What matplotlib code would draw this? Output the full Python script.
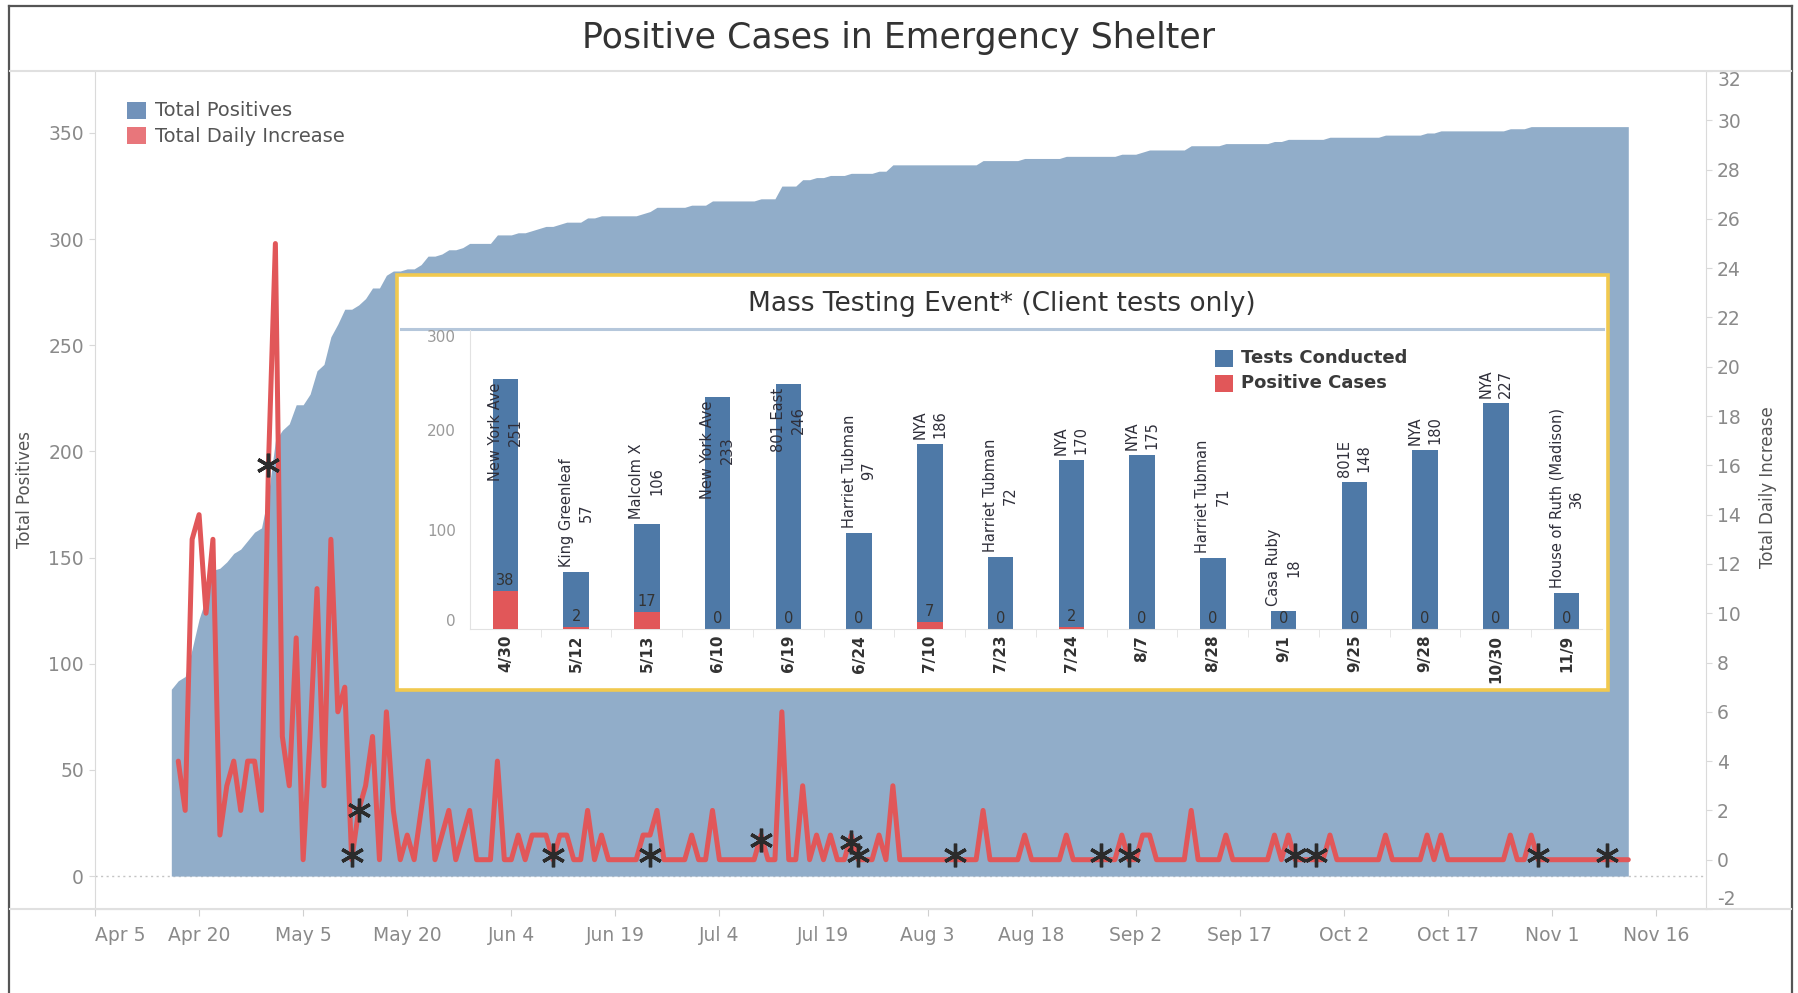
import matplotlib
matplotlib.use("Agg")
import matplotlib.pyplot as plt
import matplotlib.dates as mdates
from matplotlib.patches import Rectangle
from matplotlib.lines import Line2D
import pandas as pd

# ---------------- data ----------------
total_start = "2020-04-16"
total_positives = [
    88,
    92, 94, 107, 121, 131, 144, 145, 148, 152, 154,    # Apr 17-26
    158, 162, 164, 180, 205, 210, 213, 222, 222, 227,  # Apr 27-May 6
    238, 241, 254, 260, 267, 267, 269, 272, 277, 277,  # May 7-16
    283, 285, 285, 286, 286, 288, 292, 292, 293, 295,  # May 17-26
    295, 296, 298, 298, 298, 298, 302, 302, 302, 303,  # May 27-Jun 5
    303, 304, 305, 306, 306, 307, 308, 308, 308, 310,  # Jun 6-15
    310, 311, 311, 311, 311, 311, 311, 312, 313, 315,  # Jun 16-25
    315, 315, 315, 315, 316, 316, 316, 318, 318, 318,  # Jun 26-Jul 5
    318, 318, 318, 318, 319, 319, 319, 325, 325, 325,  # Jul 6-15
    328, 328, 329, 329, 330, 330, 330, 331, 331, 331,  # Jul 16-25
    331, 332, 332, 335, 335, 335, 335, 335, 335, 335,  # Jul 26-Aug 4
    335, 335, 335, 335, 335, 335, 337, 337, 337, 337,  # Aug 5-14
    337, 337, 338, 338, 338, 338, 338, 338, 339, 339,  # Aug 15-24
    339, 339, 339, 339, 339, 339, 340, 340, 340, 341,  # Aug 25-Sep 3
    342, 342, 342, 342, 342, 342, 344, 344, 344, 344,  # Sep 4-13
    344, 345, 345, 345, 345, 345, 345, 345, 346, 346,  # Sep 14-23
    347, 347, 347, 347, 347, 347, 348, 348, 348, 348,  # Sep 24-Oct 3
    348, 348, 348, 348, 349, 349, 349, 349, 349, 349,  # Oct 4-13
    350, 350, 351, 351, 351, 351, 351, 351, 351, 351,  # Oct 14-23
    351, 351, 352, 352, 352, 353, 353, 353, 353, 353,  # Oct 24-Nov 2
    353, 353, 353, 353, 353, 353, 353, 353, 353, 353,  # Nov 3-12
]

daily_start = "2020-04-17"
daily_increase = [
    4, 2, 13, 14, 10, 13, 1, 3, 4, 2,      # Apr 17-26
    4, 4, 2, 16, 25, 5, 3, 9, 0, 5,        # Apr 27-May 6
    11, 3, 13, 6, 7, 0, 2, 3, 5, 0,        # May 7-16
    6, 2, 0, 1, 0, 2, 4, 0, 1, 2,          # May 17-26
    0, 1, 2, 0, 0, 0, 4, 0, 0, 1,          # May 27-Jun 5
    0, 1, 1, 1, 0, 1, 1, 0, 0, 2,          # Jun 6-15
    0, 1, 0, 0, 0, 0, 0, 1, 1, 2,          # Jun 16-25
    0, 0, 0, 0, 1, 0, 0, 2, 0, 0,          # Jun 26-Jul 5
    0, 0, 0, 0, 1, 0, 0, 6, 0, 0,          # Jul 6-15
    3, 0, 1, 0, 1, 0, 0, 1, 0, 0,          # Jul 16-25
    0, 1, 0, 3, 0, 0, 0, 0, 0, 0,          # Jul 26-Aug 4
    0, 0, 0, 0, 0, 0, 2, 0, 0, 0,          # Aug 5-14
    0, 0, 1, 0, 0, 0, 0, 0, 1, 0,          # Aug 15-24
    0, 0, 0, 0, 0, 0, 1, 0, 0, 1,          # Aug 25-Sep 3
    1, 0, 0, 0, 0, 0, 2, 0, 0, 0,          # Sep 4-13
    0, 1, 0, 0, 0, 0, 0, 0, 1, 0,          # Sep 14-23
    1, 0, 0, 0, 0, 0, 1, 0, 0, 0,          # Sep 24-Oct 3
    0, 0, 0, 0, 1, 0, 0, 0, 0, 0,          # Oct 4-13
    1, 0, 1, 0, 0, 0, 0, 0, 0, 0,          # Oct 14-23
    0, 0, 1, 0, 0, 1, 0, 0, 0, 0,          # Oct 24-Nov 2
    0, 0, 0, 0, 0, 0, 0, 0, 0, 0,          # Nov 3-12
]

marker_dates = ["2020-04-30", "2020-05-12", "2020-05-13", "2020-06-10", "2020-06-24",
                "2020-07-10", "2020-07-23", "2020-07-24", "2020-08-07", "2020-08-28",
                "2020-09-01", "2020-09-25", "2020-09-28", "2020-10-30", "2020-11-09"]
marker_values = [16, 0.2, 2, 0.2, 0.2, 0.8, 0.7, 0.2, 0.2, 0.2, 0.2, 0.2, 0.2, 0.2, 0.2]

x_tick_dates = ["2020-04-05", "2020-04-20", "2020-05-05", "2020-05-20", "2020-06-04",
                "2020-06-19", "2020-07-04", "2020-07-19", "2020-08-03", "2020-08-18",
                "2020-09-02", "2020-09-17", "2020-10-02", "2020-10-17", "2020-11-01",
                "2020-11-16"]
x_tick_labels = ["Apr 5", "Apr 20", "May 5", "May 20", "Jun 4", "Jun 19", "Jul 4", "Jul 19",
                 "Aug 3", "Aug 18", "Sep 2", "Sep 17", "Oct 2", "Oct 17", "Nov 1", "Nov 16"]
left_ticks = [0, 50, 100, 150, 200, 250, 300, 350]
right_ticks = [-2, 0, 2, 4, 6, 8, 10, 12, 14, 16, 18, 20, 22, 24, 26, 28, 30, 32]

event_dates = ["4/30", "5/12", "5/13", "6/10", "6/19", "6/24", "7/10", "7/23",
               "7/24", "8/7", "8/28", "9/1", "9/25", "9/28", "10/30", "11/9"]
event_sites = ["New York Ave", "King Greenleaf", "Malcolm X", "New York Ave", "801 East",
               "Harriet Tubman", "NYA", "Harriet Tubman", "NYA", "NYA", "Harriet Tubman",
               "Casa Ruby", "801E", "NYA", "NYA", "House of Ruth (Madison)"]
tests_conducted = [251, 57, 106, 233, 246, 97, 186, 72, 170, 175, 71, 18, 148, 180, 227, 36]
positive_cases = [38, 2, 17, 0, 0, 0, 7, 0, 2, 0, 0, 0, 0, 0, 0, 0]
inset_ticks = [0, 100, 200, 300]

# ---------------- layout helpers (pixel coords, origin top-left) ----------------
W, H = 1798, 993
fig = plt.figure(figsize=(W / 100, H / 100), dpi=100)
fig.patch.set_facecolor("white")


def box(x0, y0, x1, y1):
    return [x0 / W, 1 - y1 / H, (x1 - x0) / W, (y1 - y0) / H]


def fline(x0, y0, x1, y1, **kw):
    fig.add_artist(Line2D([x0 / W, x1 / W], [1 - y0 / H, 1 - y1 / H],
                          transform=fig.transFigure, **kw))


def frect(x0, y0, x1, y1, **kw):
    fig.add_artist(Rectangle((x0 / W, 1 - y1 / H), (x1 - x0) / W, (y1 - y0) / H,
                             transform=fig.transFigure, **kw))


BLUE_AREA = "#91ADC9"
RED = "#E15759"
BLUE_BAR = "#4E79A7"
GRAY_TXT = "#8a8a8a"
LINE_GRAY = "#dadada"

# ---------------- main chart ----------------
ax = fig.add_axes(box(95, 71, 1706, 909))
tdates = pd.date_range(total_start, periods=len(total_positives), freq="D")
ax.fill_between(tdates, 0, total_positives, color=BLUE_AREA, lw=0, zorder=2)
ax.axhline(0, color="#c4c4c4", lw=1, ls=(0, (1.5, 2.5)), zorder=1)
ax.set_ylim(-15.5, 379.2)
x0 = mdates.date2num(pd.Timestamp("2020-04-05"))
ax.set_xlim(x0, x0 + 232.2)

ax.set_xticks(pd.to_datetime(x_tick_dates))
xl = ax.set_xticklabels(x_tick_labels)
xl[0].set_ha("left")
ax.tick_params(axis="x", length=5, color="#d0d0d0", labelcolor=GRAY_TXT, labelsize=13.5, pad=7)
ax.set_yticks(left_ticks)
ax.tick_params(axis="y", length=4, color="#d9d9d9", labelcolor=GRAY_TXT, labelsize=13.5, pad=4)
for s in ["top", "right"]:
    ax.spines[s].set_visible(False)
for s in ["left", "bottom"]:
    ax.spines[s].set_color(LINE_GRAY)

ax2 = ax.twinx()
ddates = pd.date_range(daily_start, periods=len(daily_increase), freq="D")
ax2.plot(ddates, daily_increase, color=RED, lw=3.6, solid_joinstyle="round",
         solid_capstyle="round", zorder=3)
ax2.plot(pd.to_datetime(marker_dates), marker_values, ls="none", marker=(6, 2, 0),
         ms=17, mew=2.4, mec="#2b2b2b", zorder=4)
ax2.set_ylim(-2, 32)
ax2.set_yticks(right_ticks, labels=[str(t) for t in right_ticks])
ax2.tick_params(axis="y", length=4, color="#d9d9d9", labelcolor=GRAY_TXT, labelsize=13.5, pad=4)
rl = ax2.get_yticklabels()
rl[0].set_va("bottom")
rl[-1].set_va("top")
for s in ["top", "left", "bottom"]:
    ax2.spines[s].set_visible(False)
ax2.spines["right"].set_color(LINE_GRAY)

# frame, separators, title
fline(9, 6, 1792, 6, color="#555555", lw=1.6)
fline(9, 6, 9, 993, color="#555555", lw=1.6)
fline(1792, 6, 1792, 993, color="#555555", lw=1.6)
fline(10, 71, 1791, 71, color="#e0e0e0", lw=1.5)
fline(10, 909, 1791, 909, color="#e0e0e0", lw=1.5)
fig.text(899 / W, 1 - 38 / H, "Positive Cases in Emergency Shelter", ha="center",
         va="center", fontsize=25, color="#333333")

# axis titles
fig.text(25 / W, 1 - 490 / H, "Total Positives", rotation=90, ha="center", va="center",
         fontsize=12, color="#555555")
fig.text(1768 / W, 1 - 487 / H, "Total Daily Increase", rotation=90, ha="center",
         va="center", fontsize=12, color="#555555")

# main legend
frect(127, 102, 146, 119, facecolor="#7192BA", edgecolor="none")
frect(127, 127, 146, 144, facecolor="#E8767B", edgecolor="none")
fig.text(155 / W, 1 - 111 / H, "Total Positives", ha="left", va="center", fontsize=14,
         color="#555555")
fig.text(155 / W, 1 - 136 / H, "Total Daily Increase", ha="left", va="center", fontsize=14,
         color="#555555")

# ---------------- inset ----------------
frect(397, 275, 1608, 690, facecolor="white", edgecolor="#F1C94F", lw=2.6, zorder=5)
fline(401, 329, 1603, 329, color="#B5C7DB", lw=2.2, zorder=6)
fig.text(1002 / W, 1 - 304 / H, "Mass Testing Event* (Client tests only)", ha="center",
         va="center", fontsize=19, color="#333333", zorder=7)

iax = fig.add_axes(box(470, 330, 1602, 629.3))
iax.set_zorder(10)
iax.patch.set_alpha(0)
xs = list(range(len(event_dates)))
iax.bar(xs, tests_conducted, width=0.36, color=BLUE_BAR, zorder=2)
iax.bar(xs, positive_cases, width=0.36, color=RED, zorder=3)
iax.set_xlim(-0.5, len(event_dates) - 0.5)
iax.set_ylim(0, 300)
iax.set_yticks(inset_ticks, labels=[str(t) for t in inset_ticks])
iax.tick_params(axis="y", length=0, labelcolor="#9a9a9a", labelsize=11, pad=10)
yl = iax.get_yticklabels()
yl[0].set_va("bottom")
yl[-1].set_va("top")
iax.set_xticks(xs, labels=event_dates)
iax.tick_params(axis="x", length=0, labelcolor="#333333", labelsize=11, pad=4,
                labelrotation=90)
for t in iax.get_xticklabels():
    t.set_fontweight("bold")
iax.set_xticks([i + 0.5 for i in xs[:-1]], minor=True)
iax.tick_params(axis="x", which="minor", length=6, color="#e2e2e2")
for s in ["top", "right"]:
    iax.spines[s].set_visible(False)
for s in ["left", "bottom"]:
    iax.spines[s].set_color("#e2e2e2")

name_texts = []
for i, (site, n) in enumerate(zip(event_sites, tests_conducted)):
    t = iax.annotate(f"{site}\n{n}", xy=(i, n), xytext=(0, 5), textcoords="offset pixels",
                     rotation=90, ha="center", va="bottom", multialignment="center",
                     fontsize=10.5, color="#2f2f3a", linespacing=1.4, annotation_clip=False,
                     zorder=5)
    name_texts.append(t)
for i, p in enumerate(positive_cases):
    iax.annotate(str(p), xy=(i, p), xytext=(0, 3), textcoords="offset pixels", ha="center",
                 va="bottom", fontsize=10.5, color="#333333", zorder=5)

# inset legend
frect(1215, 350, 1233, 367, facecolor=BLUE_BAR, edgecolor="none", zorder=12)
frect(1215, 375, 1233, 392, facecolor=RED, edgecolor="none", zorder=12)
fig.text(1241 / W, 1 - 358 / H, "Tests Conducted", ha="left", va="center", fontsize=13,
         fontweight="bold", color="#3a3a3a", zorder=12)
fig.text(1241 / W, 1 - 383 / H, "Positive Cases", ha="left", va="center", fontsize=13,
         fontweight="bold", color="#3a3a3a", zorder=12)

# move labels that would leave the pane inside the bar
fig.canvas.draw()
r = fig.canvas.get_renderer()
top = iax.get_window_extent(r).y1
for t in name_texts:
    if t.get_window_extent(r).y1 > top:
        t.xyann = (0, -4)
        t.set_va("top")

fig.savefig("out.png", dpi=100, facecolor="white")
